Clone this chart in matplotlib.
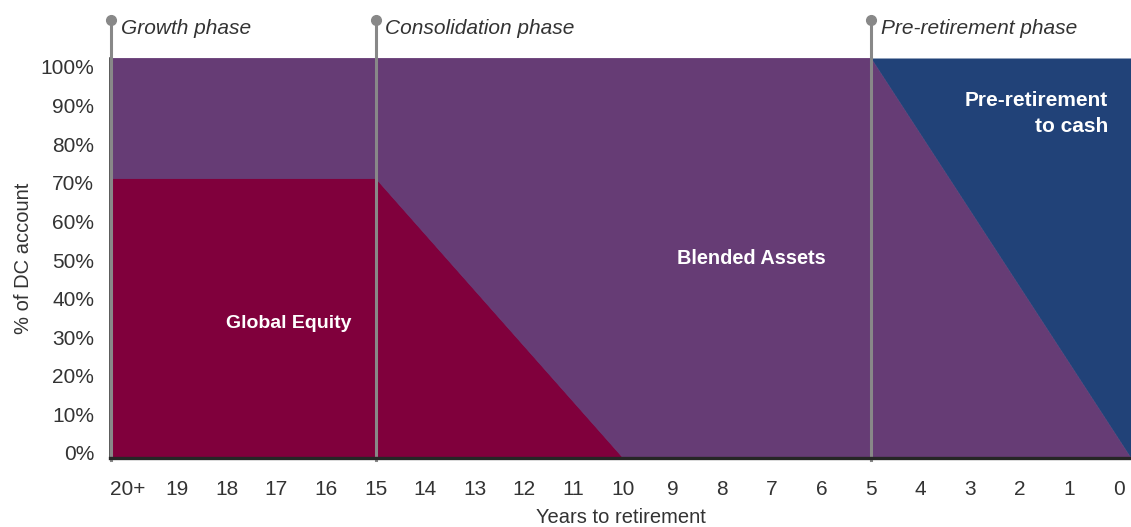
import matplotlib.pyplot as plt
import numpy as np

plt.rcParams['font.family'] = ['Liberation Sans', 'DejaVu Sans']

# glide path data (years to retirement, % of DC account)
years = [20.33, 15, 10, 5, -0.25]
global_equity = [70, 70, 0, 0, 0]
pre_retirement_cash = [0, 0, 0, 0, 100]
blended_assets = [100 - e - c for e, c in zip(global_equity, pre_retirement_cash)]

tick_years = list(range(20, -1, -1))
tick_labels = ['20+'] + [str(v) for v in range(19, -1, -1)]
pct_labels = ['%d%%' % v for v in range(0, 101, 10)]

phase_starts = [20.33, 15, 5]
phase_names = ['Growth phase', 'Consolidation phase', 'Pre-retirement phase']

c_eq = '#80003c'
c_bl = '#663c75'
c_cash = '#214278'
c_line = '#888888'
c_text = '#333333'

fig = plt.figure(figsize=(11.31, 5.27), dpi=100)
ax = fig.add_axes([110 / 1131, 69 / 527, 1021 / 1131, 400 / 527])

polys = ax.stackplot(years, global_equity, blended_assets, pre_retirement_cash,
                     colors=[c_eq, c_bl, c_cash])
# hide the antialias seams between layers
for p, c, lw in zip(polys, [c_eq, c_bl, c_cash], [0.6, 0.6, 0]):
    p.set_edgecolor(c)
    p.set_linewidth(lw)

ax.set_xlim(20.36, -0.25)
ax.set_ylim(0, 100)

ax.set_xticks(tick_years)
ax.set_xticklabels(tick_labels)
# label positions in the source are slightly compressed vs the fill
ax.set_yticks(np.linspace(1.25, 97.75, 11))
ax.set_yticklabels(pct_labels)
ax.tick_params(axis='both', length=0, labelsize=15, colors=c_text)
ax.tick_params(axis='y', pad=11.5)
ax.tick_params(axis='x', pad=16)

for s in ['top', 'right']:
    ax.spines[s].set_visible(False)
ax.spines['bottom'].set_linewidth(2.4)
ax.spines['bottom'].set_color('#262626')
ax.spines['left'].set_linewidth(1.8)
ax.spines['left'].set_color('#262626')
ax.spines['bottom'].set_zorder(5)

for x0, name in zip(phase_starts, phase_names):
    ax.plot([x0, x0], [-0.5, 109.5], color=c_line, lw=2.2, clip_on=False, zorder=4)
    ax.plot([x0], [109.5], 'o', color=c_line, ms=7, clip_on=False, zorder=4)
    ax.text(x0 - 0.2, 107.3, name, style='italic', fontsize=15, color=c_text,
            ha='left', va='center', clip_on=False)

ax.text(16.76, 33.7, 'Global Equity', color='white', fontsize=14, fontweight='bold',
        ha='center', va='center')
ax.text(7.42, 49.8, 'Blended Assets', color='white', fontsize=14.3, fontweight='bold',
        ha='center', va='center')
ax.text(0.21, 86.2, 'Pre-retirement\nto cash', color='white', fontsize=15, fontweight='bold',
        ha='right', va='center', linespacing=1.45)

ax.set_xlabel('Years to retirement', fontsize=14.5, color=c_text, labelpad=6.5)
ax.set_ylabel('% of DC account', fontsize=14.5, color=c_text, labelpad=5.5)

fig.savefig('out.png', dpi=100)
